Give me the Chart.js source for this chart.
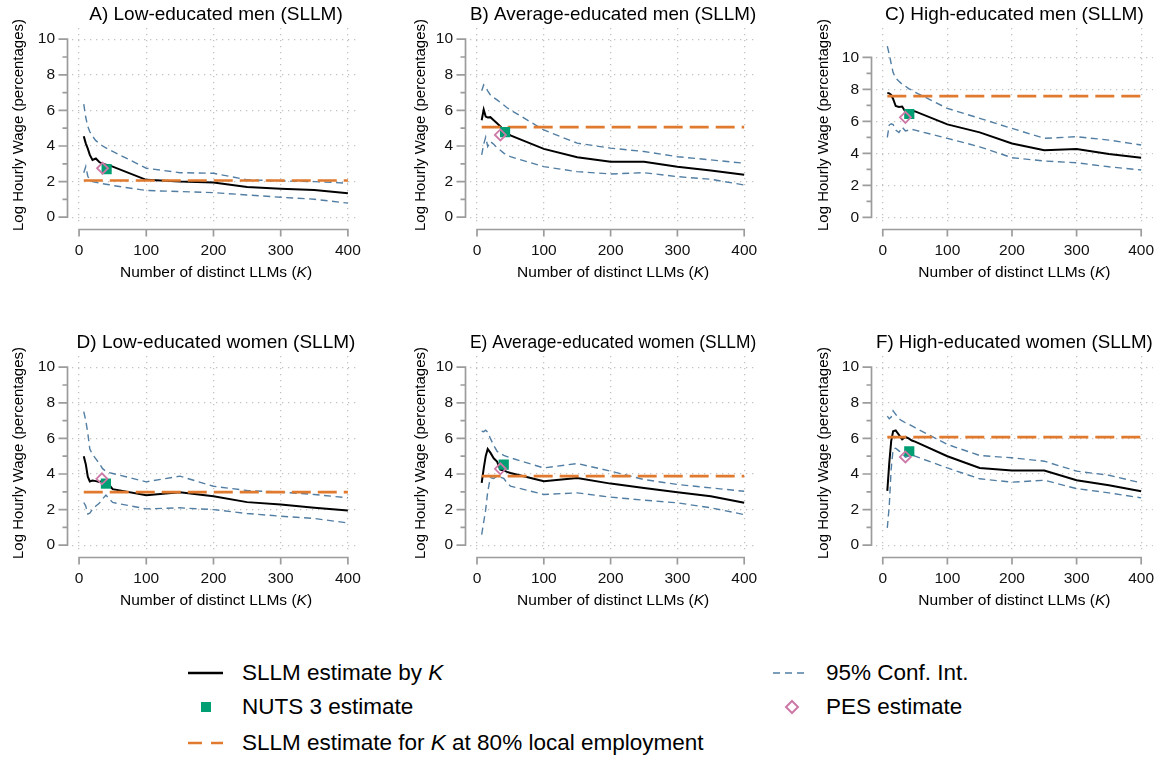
<!DOCTYPE html>
<html>
<head>
<meta charset="utf-8">
<title>SLLM estimates by K</title>
<script src="https://cdn.jsdelivr.net/npm/chart.js@4.4.1/dist/chart.umd.min.js"></script>
<style>
  body { margin: 0; background: #fff; width: 1174px; height: 757px; position: relative; overflow: hidden;
         font-family: "Liberation Sans", Arial, sans-serif; }
  .panel { position: absolute; }
  .leg { position: absolute; height: 30px; display: flex; align-items: center; font-size: 22.5px; color: #000; white-space: nowrap; }
  .leg svg { flex: none; }
</style>
</head>
<body>

<div id="panels"></div>

<div class="leg" style="left:188px; top:658px;">
  <svg width="54" height="30"><line x1="0" y1="15" x2="35" y2="15" stroke="#000" stroke-width="2.5"/></svg>SLLM estimate by&nbsp;<i>K</i>
</div>
<div class="leg" style="left:188px; top:692px;">
  <svg width="54" height="30"><rect x="13" y="10" width="10" height="10" fill="#009e73"/></svg>NUTS 3 estimate
</div>
<div class="leg" style="left:188px; top:728px;">
  <svg width="54" height="30"><line x1="0" y1="15" x2="35" y2="15" stroke="#e07a2e" stroke-width="2.5" stroke-dasharray="14 9"/></svg>SLLM estimate for&nbsp;<i>K</i>&nbsp;at 80% local employment
</div>
<div class="leg" style="left:773px; top:658px;">
  <svg width="53" height="30"><line x1="0" y1="15" x2="33" y2="15" stroke="#527ea3" stroke-width="1.5" stroke-dasharray="7 5"/></svg>95% Conf. Int.
</div>
<div class="leg" style="left:773px; top:692px;">
  <svg width="53" height="30"><path d="M19 9 L25 15 L19 21 L13 15 Z" fill="#fff" stroke="#cc79a7" stroke-width="2"/></svg>PES estimate
</div>

<script>
// =========================
// DATA
// =========================
const kGrid = [7, 10, 13, 16, 20, 25, 30, 35, 40, 45, 50, 100, 150, 200, 250, 300, 350, 400];

const estA = [4.55, 4.15, 3.85, 3.5, 3.22, 3.3, 3.1, 3.0, 2.95, 2.9, 2.84, 2.1, 2.0, 1.95, 1.7, 1.6, 1.53, 1.35];
const hiA  = [6.35, 5.6, 5.1, 4.8, 4.55, 4.3, 4.15, 4.0, 3.9, 3.78, 3.7, 2.75, 2.5, 2.47, 2.1, 2.04, 2.0, 1.91];
const loA  = [2.5, 2.85, 2.3, 2.1, 2.0, 1.96, 1.92, 1.88, 1.85, 1.82, 1.78, 1.5, 1.44, 1.38, 1.25, 1.12, 1.01, 0.79];

const estB = [5.45, 6.05, 5.65, 5.6, 5.62, 5.45, 5.28, 5.1, 4.88, 4.73, 4.6, 3.84, 3.37, 3.12, 3.12, 2.84, 2.62, 2.38];
const hiB  = [7.1, 7.43, 7.3, 7.1, 6.87, 6.72, 6.59, 6.45, 6.3, 6.15, 6.03, 4.9, 4.16, 3.88, 3.69, 3.4, 3.22, 3.03];
const loB  = [3.5, 4.1, 4.5, 3.97, 4.25, 4.1, 3.9, 3.76, 3.6, 3.5, 3.4, 2.84, 2.56, 2.43, 2.5, 2.28, 2.13, 1.81];

const estC = [7.78, 7.75, 7.66, 7.4, 6.96, 6.9, 6.93, 6.6, 6.68, 6.67, 6.62, 5.81, 5.31, 4.62, 4.2, 4.27, 3.96, 3.73];
const hiC  = [10.7, 10.2, 9.6, 9.05, 8.7, 8.5, 8.32, 8.2, 8.05, 7.95, 7.82, 6.81, 6.19, 5.56, 4.94, 5.04, 4.83, 4.52];
const loC  = [5.0, 5.77, 5.85, 5.8, 5.45, 5.3, 5.65, 5.4, 5.45, 5.5, 5.45, 4.94, 4.41, 3.73, 3.52, 3.41, 3.16, 2.96];

const estD = [5.0, 4.55, 3.85, 3.58, 3.63, 3.6, 3.55, 3.6, 3.5, 3.38, 3.15, 2.81, 2.98, 2.75, 2.42, 2.28, 2.1, 1.95];
const hiD  = [7.5, 7.0, 6.3, 5.4, 5.1, 4.85, 4.6, 4.3, 4.15, 4.08, 4.03, 3.56, 3.88, 3.31, 3.07, 2.98, 2.85, 2.66];
const loD  = [2.4, 2.2, 1.75, 1.8, 2.02, 2.2, 2.35, 2.6, 2.82, 2.6, 2.4, 2.04, 2.1, 2.0, 1.78, 1.63, 1.5, 1.25];

const estE = [3.5, 4.3, 5.0, 5.4, 5.2, 4.88, 4.7, 4.25, 4.2, 4.12, 4.06, 3.6, 3.78, 3.46, 3.22, 2.98, 2.75, 2.38];
const hiE  = [6.4, 6.38, 6.46, 6.35, 6.0, 5.6, 5.28, 5.15, 5.05, 4.98, 4.91, 4.34, 4.59, 4.16, 3.69, 3.41, 3.22, 3.03];
const loE  = [0.6, 1.3, 2.0, 3.0, 3.8, 3.75, 3.88, 3.82, 3.75, 3.5, 3.32, 2.85, 2.94, 2.7, 2.53, 2.38, 2.1, 1.72];

const estF = [3.05, 4.6, 5.85, 6.4, 6.45, 6.2, 5.95, 6.08, 6.0, 5.88, 5.82, 5.0, 4.34, 4.19, 4.19, 3.65, 3.37, 3.03];
const hiF  = [7.25, 7.1, 7.2, 7.55, 7.35, 7.1, 6.98, 6.88, 6.8, 6.7, 6.6, 5.66, 5.04, 4.91, 4.72, 4.16, 3.93, 3.5];
const loF  = [0.97, 2.2, 4.3, 5.4, 5.45, 5.3, 5.15, 4.95, 5.0, 5.08, 5.0, 4.34, 3.73, 3.54, 3.65, 3.18, 2.94, 2.66];

const titles = [
  "A) Low-educated men (SLLM)", "B) Average-educated men (SLLM)", "C) High-educated men (SLLM)",
  "D) Low-educated women (SLLM)", "E) Average-educated women (SLLM)", "F) High-educated women (SLLM)"
];
const estimates = [estA, estB, estC, estD, estE, estF];
const upperCI   = [hiA, hiB, hiC, hiD, hiE, hiF];
const lowerCI   = [loA, loB, loC, loD, loE, loF];
const k80Level  = [2.06, 5.06, 7.58, 2.98, 3.88, 6.07];
const nutsK     = [41, 42, 41, 40, 40, 41];
const nutsValue = [2.7, 4.78, 6.46, 3.46, 4.53, 5.28];
const pesK      = [35, 35, 35, 34, 35, 35];
const pesValue  = [2.75, 4.62, 6.25, 3.73, 4.29, 4.96];

const xTicks = [0, 100, 200, 300, 400];
const yTicks = [0, 2, 4, 6, 8, 10];
const yMinorTicks = [1, 3, 5, 7, 9];


// =========================
// LAYOUT / STYLE
// =========================
const FONT = "'Liberation Sans', Arial, sans-serif";
const AXIS_GRAY = "#9c9c9c";
const GRID_GRAY = "#c2c2c2";
const C_EST = "#000000";
const C_CI = "#527ea3";
const C_K80 = "#e07a2e";
const C_NUTS = "#009e73";
const C_PES = "#cc79a7";

// canvas left, width, y-axis box width, right padding (per column); top per row
const cols = [
  { left: 0,   width: 385, yAxisW: 72, padRight: 25 },
  { left: 402, width: 375, yAxisW: 68, padRight: 15 },
  { left: 805, width: 369, yAxisW: 71, padRight: 9 }
];
const rowTops = [0, 328];
const yRanges = [
  [-0.27, 10.63], [-0.27, 10.63], [-0.29, 11.835],
  [-0.27, 10.63], [-0.27, 10.63], [-0.27, 10.63]
];

Chart.defaults.font.family = FONT;


// =========================
// AXIS LINES + X TITLE PLUGIN
// =========================
const stataAxes = {
  id: "stataAxes",
  afterDraw(chart) {
    const { ctx, chartArea: a, scales: { x, y } } = chart;
    ctx.save();
    ctx.strokeStyle = AXIS_GRAY;
    ctx.lineWidth = 1.7;
    ctx.beginPath();

    const ax = a.left - 4.5;
    ctx.moveTo(ax, y.getPixelForValue(yTicks[0]) + 0.85);
    ctx.lineTo(ax, y.getPixelForValue(yTicks[yTicks.length - 1]) - 0.85);
    yTicks.forEach(v => {
      const py = y.getPixelForValue(v);
      ctx.moveTo(ax, py); ctx.lineTo(ax - 9, py);
    });
    yMinorTicks.forEach(v => {
      const py = y.getPixelForValue(v);
      ctx.moveTo(ax, py); ctx.lineTo(ax - 5, py);
    });

    const ay = a.bottom + 7.5;
    ctx.moveTo(x.getPixelForValue(xTicks[0]) - 0.85, ay);
    ctx.lineTo(x.getPixelForValue(xTicks[xTicks.length - 1]) + 0.85, ay);
    xTicks.forEach(v => {
      const px = x.getPixelForValue(v);
      ctx.moveTo(px, ay); ctx.lineTo(px, ay + 7);
    });
    ctx.stroke();

    // x axis title with italic K
    const parts = [
      ["Number of distinct LLMs (", "15.5px " + FONT],
      ["K", "italic 15.5px " + FONT],
      [")", "15.5px " + FONT]
    ];
    let total = 0;
    parts.forEach(p => { ctx.font = p[1]; total += ctx.measureText(p[0]).width; });
    let tx = (a.left + a.right) / 2 - total / 2;
    const ty = a.bottom + 51;
    ctx.fillStyle = "#000";
    ctx.textBaseline = "middle";
    ctx.textAlign = "left";
    parts.forEach(p => {
      ctx.font = p[1];
      ctx.fillText(p[0], tx, ty);
      tx += ctx.measureText(p[0]).width;
    });
    ctx.restore();
  }
};


// =========================
// BUILD ONE PANEL
// =========================
function makePanel(i) {
  const col = cols[i % 3];
  const top = rowTops[Math.floor(i / 3)];

  const holder = document.createElement("div");
  holder.className = "panel";
  holder.style.left = col.left + "px";
  holder.style.top = top + "px";
  const canvas = document.createElement("canvas");
  canvas.width = col.width;
  canvas.height = 290;
  canvas.style.width = col.width + "px";
  canvas.style.height = "290px";
  holder.appendChild(canvas);
  document.getElementById("panels").appendChild(holder);

  const pts = arr => kGrid.map((k, j) => ({ x: k, y: arr[j] }));

  const gridOpts = { color: GRID_GRAY, lineWidth: 1.3, drawTicks: false };
  const borderOpts = { display: false, dash: [1.3, 4.7] };

  new Chart(canvas, {
    type: "line",
    data: {
      datasets: [
        { label: "PES estimate", data: [{ x: pesK[i], y: pesValue[i] }], showLine: false,
          pointStyle: "rectRot", pointRadius: 5.5, pointBorderWidth: 1.8,
          pointBorderColor: C_PES, pointBackgroundColor: "rgba(255,255,255,0)" },
        { label: "NUTS 3 estimate", data: [{ x: nutsK[i], y: nutsValue[i] }], showLine: false,
          pointStyle: "rect", pointRadius: 7.2, pointBorderWidth: 0,
          pointBorderColor: C_NUTS, pointBackgroundColor: C_NUTS },
        { label: "SLLM estimate for K at 80% local employment",
          data: [{ x: kGrid[0], y: k80Level[i] }, { x: kGrid[kGrid.length - 1], y: k80Level[i] }],
          borderColor: C_K80, borderWidth: 2.6, borderDash: [19, 7], pointRadius: 0 },
        { label: "SLLM estimate by K", data: pts(estimates[i]),
          borderColor: C_EST, borderWidth: 2, pointRadius: 0 },
        { label: "95% Conf. Int.", data: pts(upperCI[i]),
          borderColor: C_CI, borderWidth: 1.4, borderDash: [7, 4.5], pointRadius: 0 },
        { label: "95% Conf. Int. (lower)", data: pts(lowerCI[i]),
          borderColor: C_CI, borderWidth: 1.4, borderDash: [7, 4.5], pointRadius: 0 }
      ]
    },
    options: {
      responsive: false,
      animation: false,
      events: [],
      layout: { padding: { left: 0, right: col.padRight, top: 0, bottom: 0 } },
      plugins: {
        legend: { display: false },
        tooltip: { enabled: false },
        title: {
          display: true, text: titles[i], fullSize: false, color: "#000",
          font: { size: 19, weight: "normal" }, padding: { top: 3.6, bottom: 1.6 }
        }
      },
      scales: {
        x: {
          type: "linear", min: -10.5, max: 418,
          afterBuildTicks: s => { s.ticks = xTicks.map(v => ({ value: v })); },
          afterFit: s => { s.height = 68; },
          grid: gridOpts, border: borderOpts,
          ticks: { padding: 19, color: "#111", font: { size: 15.5 }, maxRotation: 0 }
        },
        y: {
          type: "linear", min: yRanges[i][0], max: yRanges[i][1],
          afterBuildTicks: s => { s.ticks = yTicks.map(v => ({ value: v })); },
          afterFit: s => { s.width = col.yAxisW; },
          grid: gridOpts, border: borderOpts,
          ticks: { padding: 17, color: "#111", font: { size: 15.5 } },
          title: { display: true, text: "Log Hourly Wage (percentages)", color: "#000",
                   font: { size: 15 }, padding: { top: 9.5, bottom: 0 } }
        }
      }
    },
    plugins: [stataAxes]
  });
}

for (let i = 0; i < 6; i++) makePanel(i);
</script>
</body>
</html>
